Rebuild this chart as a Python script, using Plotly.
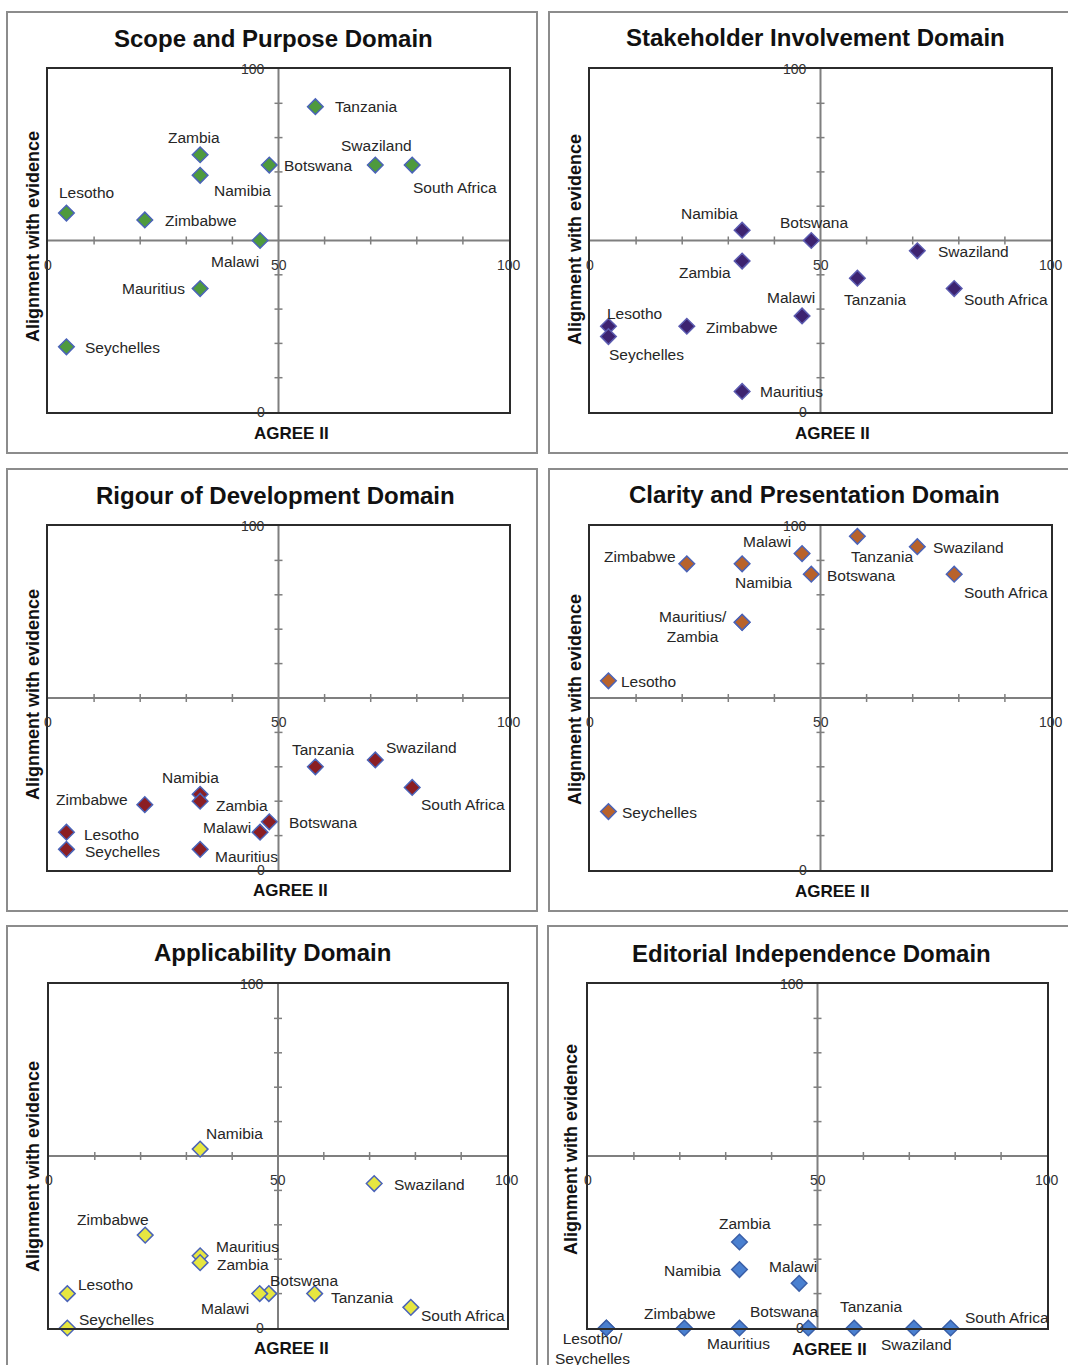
import plotly.graph_objects as go

W, H = 1068, 1365

# ---------------- data ----------------
countries = ["Botswana", "Lesotho", "Malawi", "Mauritius", "Namibia", "Seychelles",
             "South Africa", "Swaziland", "Tanzania", "Zambia", "Zimbabwe"]
agree_ii = [48, 4, 46, 33, 33, 4, 79, 71, 58, 33, 21]

scope = [72, 58, 50, 36, 69, 19, 72, 72, 89, 75, 56]
stakeholder = [50, 25, 28, 6, 53, 22, 36, 47, 39, 44, 25]
rigour = [14, 11, 11, 6, 22, 6, 24, 32, 30, 20, 19]
clarity = [86, 55, 92, 72, 89, 17, 86, 94, 97, 72, 89]
applicability = [10, 10, 10, 21, 52, 0, 6, 42, 10, 19, 27]
editorial = [0, 0, 13, 0, 17, 0, 0, 0, 0, 25, 0]

titles = ["Scope and Purpose Domain", "Stakeholder Involvement Domain",
          "Rigour of Development Domain", "Clarity and Presentation Domain",
          "Applicability Domain", "Editorial Independence Domain"]
domain_values = [scope, stakeholder, rigour, clarity, applicability, editorial]

x_title = "AGREE II"
y_title = "Alignment with evidence"
tick_labels = ["0", "50", "100"]

# label text overrides (combined labels)
label_text = [
    {},
    {},
    {},
    {"Mauritius": "Mauritius/<br>Zambia", "Zambia": ""},
    {},
    {"Lesotho": "Lesotho/<br>Seychelles", "Seychelles": ""},
]

# ---------------- styles / layout ----------------
fills = ["#4E9A3D", "#3D2370", "#8B1E23", "#B8622B", "#E6E640", "#4A80D0"]
edges = ["#4A63B8", "#5B5BB0", "#4A63B8", "#4A63B8", "#4A63B8", "#3A5FA8"]

# plot areas in pixels (x0, y0, x1, y1)
plot_px = [(48, 69, 509, 412), (590, 69, 1051, 412),
           (48, 526, 509, 870), (590, 526, 1051, 870),
           (49, 984, 507, 1328), (588, 984, 1047, 1328)]
outer_px = [(7, 12, 537, 453), (549, 12, 1080, 453),
            (7, 469, 537, 911), (549, 469, 1080, 911),
            (7, 926, 537, 1380), (548, 926, 1080, 1380)]
title_px = [(273, 38), (815, 37), (275, 495), (814, 494), (272, 952), (811, 953)]
xt_px = [(291, 433), (832, 433), (290, 890), (832, 891), (291, 1348), (829, 1349)]
yt_px = [(33, 237), (575, 240), (33, 695), (575, 700), (33, 1167), (571, 1150)]

# label placement: country -> (xanchor, xshift, yshift)   (yshift >0 = up)
placements = [
    {"Tanzania": ("left", 18, 0), "Zambia": ("center", -6, 17), "Botswana": ("left", 13, 0),
     "Swaziland": ("center", 1, 20), "South Africa": ("left", -1, -22), "Namibia": ("left", 12, -15),
     "Lesotho": ("left", -9, 21), "Zimbabwe": ("left", 18, -1), "Malawi": ("right", 1, -21),
     "Mauritius": ("right", -13, 0), "Seychelles": ("left", 17, -1)},
    {"Namibia": ("right", -2, 17), "Botswana": ("center", 3, 18), "Swaziland": ("left", 19, -1),
     "Zambia": ("right", -9, -11), "Tanzania": ("left", -15, -21), "South Africa": ("left", 8, -11),
     "Malawi": ("center", -11, 18), "Lesotho": ("left", -3, 13), "Zimbabwe": ("left", 17, -1),
     "Seychelles": ("left", -1, -18), "Mauritius": ("left", 16, 0)},
    {"Tanzania": ("center", 8, 17), "Swaziland": ("left", 9, 12), "South Africa": ("left", 7, -17),
     "Namibia": ("center", -10, 17), "Zimbabwe": ("right", -15, 5), "Zambia": ("left", 14, -4),
     "Botswana": ("left", 18, -1), "Malawi": ("right", -7, 5), "Lesotho": ("left", 16, -2),
     "Seychelles": ("left", 17, -2), "Mauritius": ("left", 13, -7)},
    {"Tanzania": ("left", -8, -20), "Swaziland": ("left", 14, -1), "Malawi": ("right", -9, 12),
     "Zimbabwe": ("right", -9, 7), "Namibia": ("left", -9, -19), "Botswana": ("left", 14, -1),
     "South Africa": ("left", 8, -18), "Mauritius": ("center", -49, -4), "Zambia": ("left", 0, 0),
     "Lesotho": ("left", 11, -1), "Seychelles": ("left", 12, -1)},
    {"Namibia": ("left", 4, 16), "Swaziland": ("left", 18, -1), "Zimbabwe": ("center", -32, 16),
     "Mauritius": ("left", 14, 9), "Zambia": ("left", 15, -2), "Lesotho": ("left", 9, 9),
     "Malawi": ("right", -9, -15), "Botswana": ("left", -1, 13), "Tanzania": ("left", 14, -4),
     "South Africa": ("left", 8, -8), "Seychelles": ("left", 10, 9)},
    {"Zambia": ("center", 6, 19), "Namibia": ("right", -16, -1), "Malawi": ("center", -6, 17),
     "Lesotho": ("center", -14, -20), "Seychelles": ("left", 0, 0), "Zimbabwe": ("center", -4, 15),
     "Mauritius": ("center", -1, -15), "Botswana": ("center", -24, 17), "Tanzania": ("center", 17, 22),
     "Swaziland": ("center", 3, -16), "South Africa": ("left", 12, 11)},
]

FONT = "Liberation Sans, Arial, sans-serif"
LABEL_COLOR = "#262626"


def fx(px):
    return px / W


def fy(py):
    return 1 - py / H


fig = go.Figure()
layout = dict(width=W, height=H, margin=dict(l=0, r=0, t=0, b=0),
              paper_bgcolor="white", plot_bgcolor="white", showlegend=False,
              font=dict(family=FONT, color=LABEL_COLOR))
shapes = []
annotations = []

tick_vals = [10, 20, 30, 40, 60, 70, 80, 90]

for i in range(6):
    n = "" if i == 0 else str(i + 1)
    xa, ya = "x" + n, "y" + n
    x0, y0, x1, y1 = plot_px[i]
    axis_common = dict(range=[0, 100], showgrid=False, zeroline=False, showticklabels=False,
                       ticks="", showline=True, mirror=True, linecolor="#2b2b2b", linewidth=2,
                       fixedrange=True)
    layout["xaxis" + n] = dict(domain=[fx(x0), fx(x1)], anchor=ya, **axis_common)
    layout["yaxis" + n] = dict(domain=[fy(y1), fy(y0)], anchor=xa, **axis_common)

    # outer panel frame
    ox0, oy0, ox1, oy1 = outer_px[i]
    shapes.append(dict(type="rect", xref="paper", yref="paper", x0=fx(ox0), x1=fx(ox1),
                       y0=fy(oy1), y1=fy(oy0), line=dict(color="#8c8c8c", width=2),
                       layer="below"))
    # crosshair axes at 50/50
    shapes.append(dict(type="line", xref=xa, yref=ya, x0=50, x1=50, y0=0, y1=100,
                       line=dict(color="#7f7f7f", width=2), layer="below"))
    shapes.append(dict(type="line", xref=xa, yref=ya, x0=0, x1=100, y0=50, y1=50,
                       line=dict(color="#7f7f7f", width=2), layer="below"))
    for t in tick_vals:
        shapes.append(dict(type="line", xref=xa, yref=ya, ysizemode="pixel", yanchor=50,
                           x0=t, x1=t, y0=-4, y1=4, line=dict(color="#7f7f7f", width=1.5),
                           layer="below"))
        shapes.append(dict(type="line", xref=xa, yref=ya, xsizemode="pixel", xanchor=50,
                           y0=t, y1=t, x0=-4, x1=4, line=dict(color="#7f7f7f", width=1.5),
                           layer="below"))

    # tick labels
    for v, lab in zip([0, 50, 100], tick_labels):
        annotations.append(dict(x=v, y=50, xref=xa, yref=ya, text=lab, showarrow=False,
                                xanchor="center", yanchor="middle", yshift=-24,
                                font=dict(size=14, color="#333333")))
    for v, lab in zip([0, 100], [tick_labels[0], tick_labels[2]]):
        annotations.append(dict(x=50, y=v, xref=xa, yref=ya, text=lab, showarrow=False,
                                xanchor="right", yanchor="middle", xshift=-12,
                                font=dict(size=14, color="#333333")))

    # titles
    tx, ty = title_px[i]
    annotations.append(dict(x=fx(tx), y=fy(ty), xref="paper", yref="paper", text="<b>%s</b>" % titles[i],
                            showarrow=False, xanchor="center", yanchor="middle",
                            font=dict(size=24, color="#111111")))
    ax_x, ax_y = xt_px[i]
    annotations.append(dict(x=fx(ax_x), y=fy(ax_y), xref="paper", yref="paper", text="<b>%s</b>" % x_title,
                            showarrow=False, xanchor="center", yanchor="middle",
                            font=dict(size=17, color="#111111")))
    yx, yy = yt_px[i]
    annotations.append(dict(x=fx(yx), y=fy(yy), xref="paper", yref="paper", text="<b>%s</b>" % y_title,
                            showarrow=False, xanchor="center", yanchor="middle", textangle=-90,
                            font=dict(size=18, color="#111111")))

    # points
    vals = domain_values[i]
    fig.add_trace(go.Scatter(x=agree_ii, y=vals, xaxis=xa, yaxis=ya, mode="markers",
                             cliponaxis=False, hoverinfo="text", text=countries,
                             marker=dict(symbol="diamond", size=12, color=fills[i],
                                         line=dict(color=edges[i], width=1.5))))
    # point labels
    for c, xv, yv in zip(countries, agree_ii, vals):
        txt = label_text[i].get(c, c)
        if not txt:
            continue
        anchor, dx, dy = placements[i][c]
        annotations.append(dict(x=xv, y=yv, xref=xa, yref=ya, text=txt, showarrow=False,
                                xanchor=anchor, yanchor="middle", xshift=dx, yshift=dy,
                                align="center", font=dict(size=15.5, color=LABEL_COLOR)))

layout["shapes"] = shapes
layout["annotations"] = annotations
fig.update_layout(**layout)

fig.write_html("out.html", config={"displayModeBar": False},
               post_script="document.body.style.margin='0';document.body.style.overflow='hidden';")
